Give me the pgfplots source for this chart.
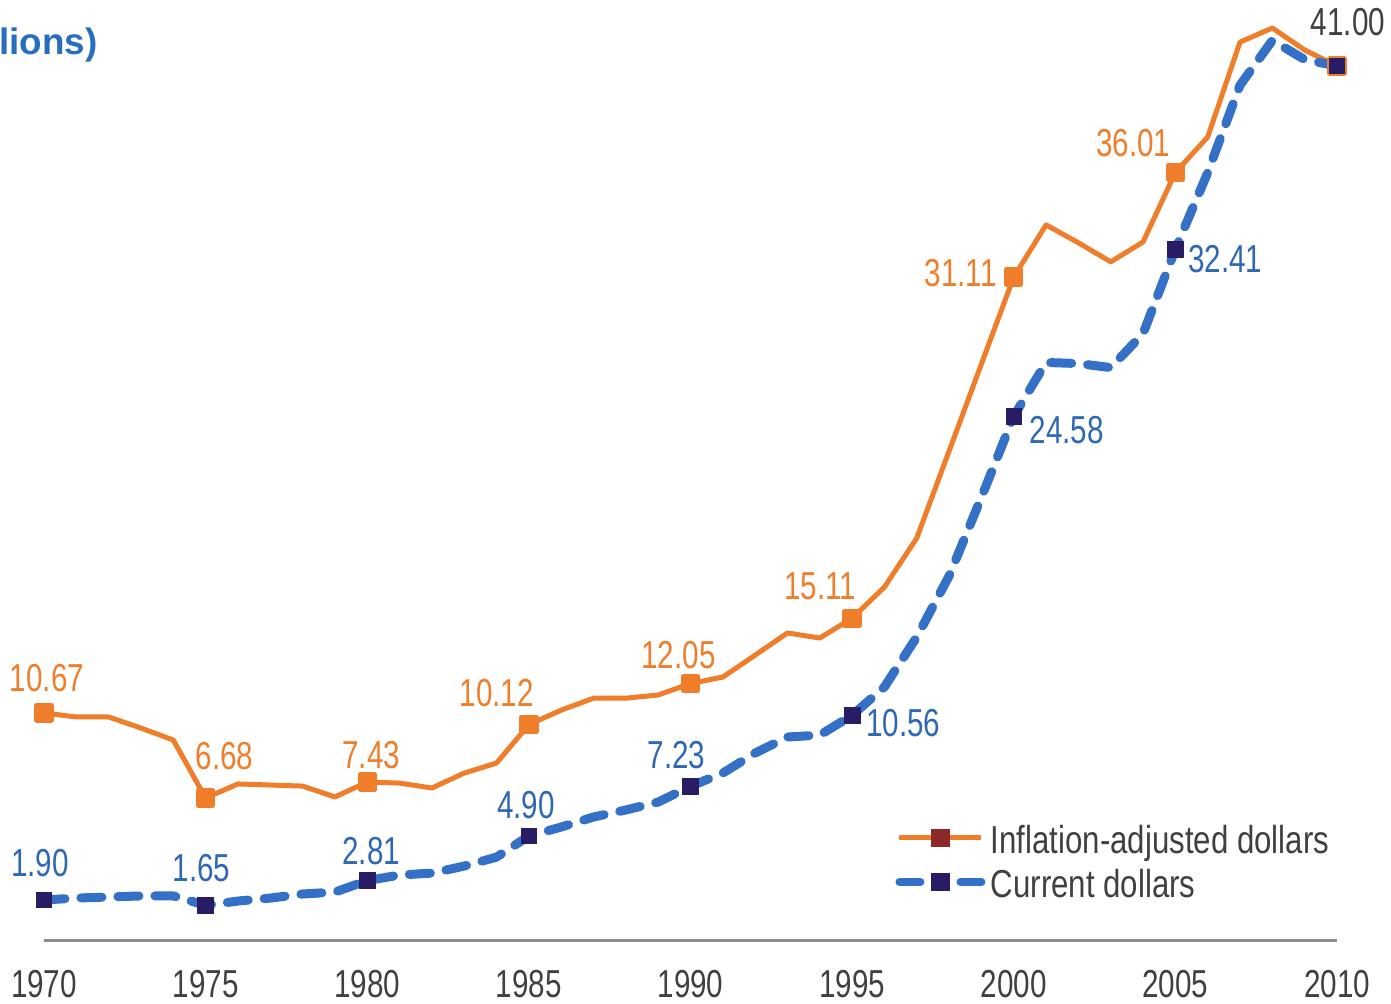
\documentclass[border=0pt]{standalone}
\usepackage{pgfplots}
\pgfplotsset{compat=1.18}
\usepackage{fontspec}
\setmainfont{Liberation Sans}[FakeStretch=0.76]
\newfontfamily\titlefont{Liberation Sans}
\newfontfamily\legfont{Liberation Sans}[FakeStretch=0.80]
\definecolor{orng}{RGB}{240,125,42}
\definecolor{bline}{RGB}{51,112,198}
\definecolor{btext}{RGB}{46,104,180}
\definecolor{navy}{RGB}{40,28,100}
\definecolor{dred}{RGB}{140,40,40}
\definecolor{gtext}{RGB}{64,64,64}
\definecolor{agray}{RGB}{140,140,140}
\definecolor{tblue}{RGB}{40,110,190}
\begin{document}
\fontsize{19.5pt}{23pt}\selectfont
\begin{tikzpicture}
\begin{axis}[
  at={(0,0)}, anchor=south west,
  scale only axis, width=646.5pt, height=469.25pt,
  xmin=1970, xmax=2010, ymin=0, ymax=44,
  axis x line=bottom, axis y line=none,
  x axis line style={agray, line width=1.25pt, -},
  xtick={1970,1975,1980,1985,1990,1995,2000,2005,2010},
  xticklabels={1970,1975,1980,1985,1990,1995,2000,2005,2010},
  major tick length=0pt,
  xticklabel style={anchor=north, inner sep=0pt, yshift=-14.75pt, text=gtext, font=\fontsize{19.5pt}{23pt}\selectfont},
  clip=false,
  legend style={draw=none, fill=none, at={(0.6582,0.0794)}, anchor=west, inner sep=0pt,
    column sep=2.75pt, row sep=4pt,
    nodes={inner sep=0pt, text height=14pt, text depth=4pt, text=gtext, font=\legfont\fontsize{19.5pt}{23pt}\selectfont}},
  legend cell align=left,
  legend image code/.code={\draw[mark repeat=2,mark phase=2,#1] plot coordinates {(0pt,3pt) (20.5pt,3pt) (41pt,3pt)};},
]
\addplot[forget plot, orng, line width=2.5pt, line join=round, mark=square*, mark repeat=5, mark size=3.6pt, mark options={fill=orng, draw=orng}] coordinates {
(1970,10.67) (1971,10.48) (1972,10.48) (1973,9.96) (1974,9.40)
(1975,6.68) (1976,7.34) (1977,7.29) (1978,7.24) (1979,6.73)
(1980,7.43) (1981,7.38) (1982,7.15) (1983,7.85) (1984,8.32)
(1985,10.12) (1986,10.80) (1987,11.36) (1988,11.36) (1989,11.51)
(1990,12.05) (1991,12.35) (1992,13.38) (1993,14.42) (1994,14.18)
(1995,15.11) (1996,16.57) (1997,18.87) (1998,22.95) (1999,27.03)
(2000,31.11) (2001,33.55) (2002,32.71) (2003,31.82) (2004,32.75)
(2005,36.01) (2006,37.67) (2007,42.12) (2008,42.78) (2009,41.75)
(2010,41.00)};
\addplot[forget plot, bline, line width=4.5pt, line cap=round, line join=round, dash pattern=on 10.5pt off 8pt, mark=square*, mark repeat=5, mark size=3.9pt, mark options={solid, fill=navy, draw=navy, line width=0.4pt}] coordinates {
(1970,1.90) (1971,1.99) (1972,2.04) (1973,2.09) (1974,2.09)
(1975,1.65) (1976,1.85) (1977,1.99) (1978,2.18) (1979,2.27)
(1980,2.81) (1981,3.07) (1982,3.16) (1983,3.49) (1984,3.91)
(1985,4.90) (1986,5.32) (1987,5.79) (1988,6.12) (1989,6.49)
(1990,7.23) (1991,7.85) (1992,8.79) (1993,9.54) (1994,9.63)
(1995,10.56) (1996,11.89) (1997,14.23) (1998,17.09) (1999,20.78)
(2000,24.58) (2001,27.10) (2002,27.05) (2003,26.86) (2004,28.45)
(2005,32.41) (2006,36.00) (2007,40.10) (2008,42.20) (2009,41.30)
(2010,41.00)};
\addlegendimage{orng, line width=2.5pt, mark=square*, mark size=4.3pt, mark options={fill=dred, draw=dred, line width=0.4pt}}
\addlegendentry{Inflation-adjusted dollars}
\addlegendimage{bline, line width=4pt, line cap=round, dash pattern=on 10.5pt off 20pt, mark=square*, mark size=4.3pt, mark options={solid, fill=navy, draw=navy, line width=0.4pt}}
\addlegendentry{Current dollars}
% orange labels
\begin{scope}[every node/.style={inner sep=0pt, text=orng}]
\node[xshift=1.5pt, yshift=17.5pt] at (axis cs:1970,10.67) {10.67};
\node[xshift=9.5pt, yshift=21pt] at (axis cs:1975,6.68) {6.68};
\node[xshift=2pt, yshift=13.5pt] at (axis cs:1980,7.43) {7.43};
\node[xshift=-16pt, yshift=16pt] at (axis cs:1985,10.12) {10.12};
\node[xshift=-6pt, yshift=14pt] at (axis cs:1990,12.05) {12.05};
\node[xshift=-16pt, yshift=16pt] at (axis cs:1995,15.11) {15.11};
\node[xshift=-26.5pt, yshift=2pt] at (axis cs:2000,31.11) {31.11};
\node[xshift=-21pt, yshift=14.5pt] at (axis cs:2005,36.01) {36.01};
\end{scope}
\node[inner sep=0pt, text=gtext, xshift=5.5pt, yshift=22pt] at (axis cs:2010,41.00) {41.00};
% blue labels
\begin{scope}[every node/.style={inner sep=0pt, text=btext}]
\node[xshift=-2pt, yshift=18.5pt] at (axis cs:1970,1.90) {1.90};
\node[xshift=-2pt, yshift=18.5pt] at (axis cs:1975,1.65) {1.65};
\node[xshift=2pt, yshift=14.5pt] at (axis cs:1980,2.81) {2.81};
\node[xshift=-1.5pt, yshift=15.5pt] at (axis cs:1985,4.90) {4.90};
\node[xshift=-7pt, yshift=15.5pt] at (axis cs:1990,7.23) {7.23};
\node[xshift=25.5pt, yshift=-4pt] at (axis cs:1995,10.56) {10.56};
\node[xshift=26.5pt, yshift=-7pt] at (axis cs:2000,24.58) {24.58};
\node[xshift=25pt, yshift=-5pt] at (axis cs:2005,32.41) {32.41};
\end{scope}
\end{axis}
\node[anchor=east, inner sep=0pt, text=tblue, font=\titlefont\bfseries\fontsize{18.4pt}{22pt}\selectfont] at (27pt,447.75pt) {lions)};
\pgfresetboundingbox
\path (-22pt,-31.25pt) rectangle (673.5pt,470.25pt);
\end{tikzpicture}
\end{document}
